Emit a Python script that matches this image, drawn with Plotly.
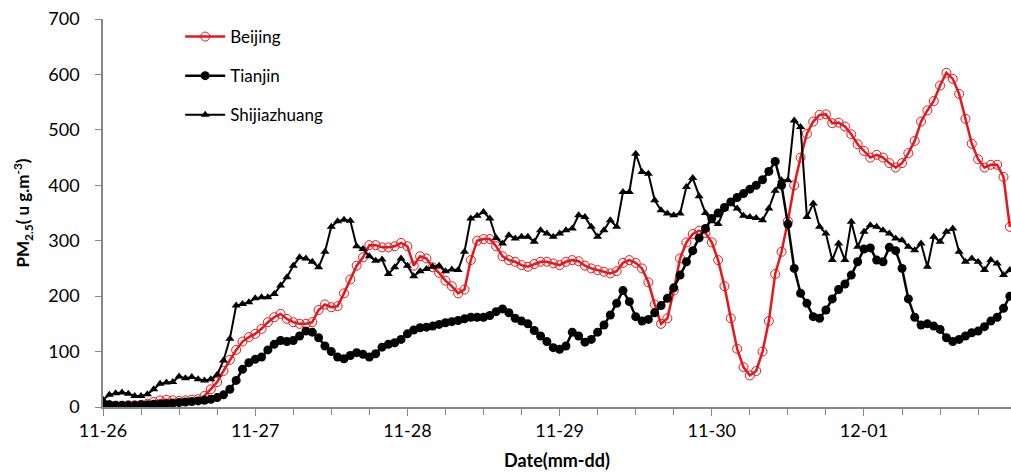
import pandas as pd
import plotly.graph_objects as go

start = "2015-11-26 00:00"
hours = pd.date_range(start, periods=144, freq="h")

beijing = [5, 3, 2, 2, 3, 3, 4, 6, 9, 12, 13, 12, 11, 12, 13, 14, 20, 32, 45, 65,
           85, 103, 118, 126, 132, 141, 153, 162, 168, 159, 153, 150, 150, 153, 175, 185, 180, 182, 205, 230,
           255, 270, 292, 292, 288, 288, 290, 296, 290, 255, 272, 268, 252, 242, 228, 218, 205, 212, 265, 300,
           303, 303, 290, 272, 265, 262, 256, 253, 258, 262, 262, 259, 256, 262, 265, 263, 255, 250, 247, 244,
           241, 245, 260, 265, 260, 250, 225, 185, 150, 160, 210, 268, 297, 312, 318, 314, 297, 265, 218, 160,
           105, 72, 57, 65, 100, 155, 240, 280, 335, 400, 450, 493, 515, 527, 528, 512, 513, 506, 492, 474,
           462, 450, 455, 450, 440, 432, 440, 458, 480, 515, 535, 552, 580, 603, 592, 565, 520, 475, 447, 432,
           437, 437, 415, 325]

tianjin = [5, 4, 3, 3, 3, 3, 4, 4, 5, 5, 6, 7, 8, 9, 10, 11, 12, 14, 17, 22,
           32, 48, 68, 80, 86, 90, 103, 113, 120, 118, 120, 128, 137, 135, 125, 110, 100, 90, 87, 93,
           98, 95, 90, 96, 108, 113, 116, 122, 132, 139, 143, 144, 146, 149, 152, 154, 156, 159, 162, 162,
           162, 165, 172, 177, 170, 160, 155, 150, 138, 128, 118, 107, 104, 110, 135, 128, 117, 122, 135, 148,
           166, 187, 210, 190, 163, 155, 158, 170, 183, 196, 215, 238, 262, 282, 305, 322, 340, 350, 360, 370,
           378, 385, 393, 400, 410, 425, 443, 400, 330, 250, 205, 187, 163, 160, 175, 195, 212, 222, 238, 262,
           285, 287, 265, 262, 288, 282, 250, 195, 162, 148, 150, 146, 140, 125, 118, 122, 128, 134, 137, 145,
           155, 162, 178, 200]

shijiazhuang = [13, 22, 25, 26, 24, 20, 20, 23, 32, 42, 44, 45, 55, 52, 54, 50, 48, 50, 58, 84,
                123, 183, 186, 189, 196, 198, 198, 204, 219, 234, 255, 270, 268, 262, 252, 280, 325, 335, 338, 336,
                290, 285, 272, 264, 266, 240, 252, 268, 255, 236, 245, 249, 253, 255, 245, 248, 247, 280, 340, 345,
                352, 340, 305, 295, 310, 304, 307, 307, 298, 319, 313, 307, 313, 319, 322, 346, 343, 325, 307, 319,
                337, 325, 388, 388, 457, 424, 421, 373, 355, 349, 346, 349, 397, 413, 380, 350, 335, 330, 358, 367,
                358, 345, 343, 341, 337, 358, 390, 409, 409, 517, 505, 343, 367, 325, 313, 265, 295, 265, 334, 289,
                316, 328, 325, 319, 313, 304, 301, 289, 283, 295, 253, 307, 298, 316, 322, 280, 262, 268, 262, 247,
                265, 259, 238, 247]

fig = go.Figure()
fig.add_trace(go.Scatter(
    x=hours, y=beijing, name="Beijing", mode="lines+markers", legendgroup="a",
    line=dict(color="#e8161b", width=2.5),
    marker=dict(symbol="circle-open", size=9, color="#e8161b", line=dict(width=1)),
))
fig.add_trace(go.Scatter(
    x=hours, y=tianjin, name="Tianjin", mode="lines+markers", legendgroup="b",
    line=dict(color="black", width=2.5),
    marker=dict(symbol="circle", size=9, color="black"),
))
fig.add_trace(go.Scatter(
    x=hours, y=shijiazhuang, name="Shijiazhuang", mode="lines+markers", legendgroup="c",
    line=dict(color="black", width=2),
    marker=dict(symbol="triangle-up", size=8, color="black"),
))

axis_col = "#868686"
fig.update_layout(
    width=1011, height=476,
    margin=dict(l=103, r=0, t=18.5, b=69),
    paper_bgcolor="white", plot_bgcolor="white",
    font=dict(family="Lato", size=18, color="black"),
    showlegend=True,
    legend=dict(x=0.085, y=1.0, xanchor="left", yanchor="top", itemwidth=40,
                font=dict(size=17), bgcolor="rgba(0,0,0,0)", tracegroupgap=14),
    xaxis=dict(
        type="date", range=["2015-11-26 00:00", "2015-12-01 23:11"],
        tickformat="%m-%d", tick0="2015-11-26", dtick=86400000,
        ticks="outside", ticklen=7, tickcolor=axis_col, tickwidth=1.2,
        showline=True, linecolor=axis_col, linewidth=1.5, showgrid=False, zeroline=False,
        minor=dict(dtick=21600000, tick0="2015-11-26", ticks="outside", ticklen=6,
                   tickcolor=axis_col, tickwidth=1.2, showgrid=False),
        title=dict(text="<b>Date(mm-dd)</b>", font=dict(size=18), standoff=14),
    ),
    yaxis=dict(
        range=[0, 700], dtick=100, tick0=0,
        ticks="outside", ticklen=6, tickcolor=axis_col, tickwidth=1.2,
        ticklabelstandoff=12,
        showline=True, linecolor=axis_col, linewidth=1.5, showgrid=False, zeroline=False,
        title=dict(text="<b>PM<sub>2.5</sub>( u g.m<sup>-3</sup>)</b>", font=dict(size=17), standoff=14),
    ),
)

fig.write_html("out.html", config={"displayModeBar": False},
               post_script="document.body.style.margin='0';")
